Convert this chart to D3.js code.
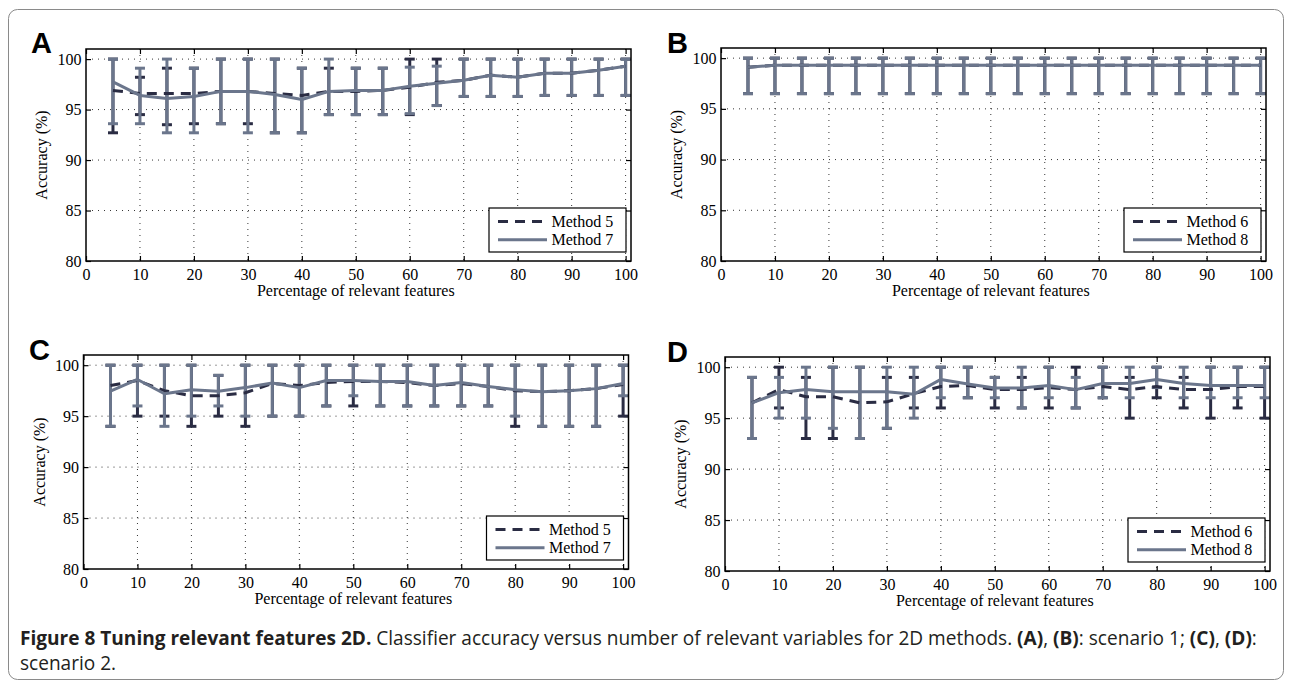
<!DOCTYPE html>
<html>
<head>
<meta charset="utf-8">
<script src="https://cdn.jsdelivr.net/npm/d3@7"></script>
<style>
  html, body { margin: 0; padding: 0; background: #fff; }
  svg { display: block; }
</style>
</head>
<body>
<svg id="fig" width="1292" height="688"></svg>
<script>
// x values shared by all panels (percentage of relevant features)
const xPct = [5, 10, 15, 20, 25, 30, 35, 40, 45, 50, 55, 60, 65, 70, 75, 80, 85, 90, 95, 100];
const xTicks = [0, 10, 20, 30, 40, 50, 60, 70, 80, 90, 100];
const yTicks = [80, 85, 90, 95, 100];

// panel A: method 5 (dashed) and method 7 (solid)
const aM5Mean = [96.9, 96.6, 96.6, 96.6, 96.8, 96.8, 96.6, 96.4, 96.8, 96.8, 96.9, 97.2, 97.7, 97.9, 98.4, 98.2, 98.6, 98.6, 98.9, 99.3];
const aM5Hi = [100, 98.2, 99.1, 99.1, 100, 100, 100, 99.1, 99.1, 99.1, 99.1, 100, 100, 100, 100, 100, 100, 100, 100, 100];
const aM5Lo = [92.7, 94.5, 93.5, 93.6, 93.6, 93.6, 92.7, 92.7, 94.5, 94.5, 94.5, 94.5, 95.4, 96.3, 96.3, 96.3, 96.4, 96.4, 96.4, 96.4];
const aM7Mean = [97.75, 96.4, 96.1, 96.3, 96.8, 96.8, 96.5, 96.0, 96.8, 96.9, 96.9, 97.3, 97.6, 97.9, 98.4, 98.2, 98.6, 98.6, 98.9, 99.3];
const aM7Hi = [100, 99.1, 100, 99.1, 100, 100, 100, 99.1, 100, 99.1, 99.1, 99.2, 99.3, 100, 100, 100, 100, 100, 100, 100];
const aM7Lo = [93.6, 93.6, 92.7, 92.7, 93.6, 92.7, 92.7, 92.7, 94.5, 94.5, 94.5, 94.6, 95.4, 96.3, 96.3, 96.3, 96.4, 96.4, 96.4, 96.4];

// panel B: method 6 (dashed) and method 8 (solid)
const bM6Mean = [99.1, 99.3, 99.3, 99.3, 99.3, 99.3, 99.3, 99.3, 99.3, 99.3, 99.3, 99.3, 99.3, 99.3, 99.3, 99.3, 99.3, 99.3, 99.3, 99.3];
const bM6Hi = [100, 100, 100, 100, 100, 100, 100, 100, 100, 100, 100, 100, 100, 100, 100, 100, 100, 100, 100, 100];
const bM6Lo = [96.5, 96.5, 96.5, 96.5, 96.5, 96.5, 96.5, 96.5, 96.5, 96.5, 96.5, 96.5, 96.5, 96.5, 96.5, 96.5, 96.5, 96.5, 96.5, 96.5];
const bM8Mean = [99.1, 99.3, 99.3, 99.3, 99.3, 99.3, 99.3, 99.3, 99.3, 99.3, 99.3, 99.3, 99.3, 99.3, 99.3, 99.3, 99.3, 99.3, 99.3, 99.3];
const bM8Hi = [100, 100, 100, 100, 100, 100, 100, 100, 100, 100, 100, 100, 100, 100, 100, 100, 100, 100, 100, 100];
const bM8Lo = [96.5, 96.5, 96.5, 96.5, 96.5, 96.5, 96.5, 96.5, 96.5, 96.5, 96.5, 96.5, 96.5, 96.5, 96.5, 96.5, 96.5, 96.5, 96.5, 96.5];

// panel C: method 5 (dashed) and method 7 (solid)
const cM5Mean = [98.0, 98.5, 97.5, 97.0, 97.0, 97.3, 98.2, 98.0, 98.3, 98.4, 98.4, 98.3, 98.0, 98.2, 97.9, 97.5, 97.4, 97.5, 97.7, 98.1];
const cM5Hi = [100, 100, 100, 100, 99.0, 100, 100, 100, 100, 100, 100, 100, 100, 100, 100, 100, 100, 100, 100, 100];
const cM5Lo = [94.0, 95.0, 95.0, 94.0, 95.0, 94.0, 95.0, 95.0, 96.0, 96.0, 96.0, 96.0, 96.0, 96.0, 96.0, 94.0, 94.0, 94.0, 94.0, 95.0];
const cM7Mean = [97.45, 98.6, 97.2, 97.6, 97.45, 97.8, 98.25, 97.8, 98.5, 98.5, 98.4, 98.4, 98.0, 98.3, 97.9, 97.6, 97.4, 97.5, 97.7, 98.2];
const cM7Hi = [100, 100, 100, 100, 99.0, 100, 100, 100, 100, 100, 100, 100, 100, 100, 100, 100, 100, 100, 100, 100];
const cM7Lo = [94.0, 96.0, 94.0, 95.0, 96.0, 95.0, 95.0, 95.0, 96.0, 97.0, 96.0, 96.0, 96.0, 96.0, 96.0, 95.0, 94.0, 94.0, 94.0, 97.0];

// panel D: method 6 (dashed) and method 8 (solid)
const dM6Mean = [96.5, 97.8, 97.1, 97.1, 96.5, 96.6, 97.4, 98.1, 98.2, 97.8, 97.8, 98.0, 97.8, 98.1, 97.8, 98.1, 97.8, 97.8, 98.1, 98.1];
const dM6Hi = [99.0, 100, 99.0, 100, 100, 99.0, 99.0, 100, 100, 99.0, 99.0, 100, 100, 100, 99.0, 100, 99.0, 100, 100, 100];
const dM6Lo = [93.0, 96.0, 93.0, 93.0, 93.0, 94.0, 96.0, 96.0, 97.0, 96.0, 96.0, 96.0, 96.0, 97.0, 95.0, 97.0, 96.0, 95.0, 96.0, 95.0];
const dM8Mean = [96.5, 97.5, 97.8, 97.6, 97.6, 97.6, 97.35, 98.8, 98.35, 97.95, 97.95, 98.2, 97.8, 98.4, 98.4, 98.8, 98.4, 98.2, 98.2, 98.2];
const dM8Hi = [99.0, 99.0, 100, 100, 100, 100, 100, 100, 100, 99.0, 100, 100, 99.0, 100, 100, 100, 100, 100, 100, 100];
const dM8Lo = [93.0, 95.0, 95.0, 94.0, 93.0, 94.0, 95.0, 97.0, 97.0, 97.0, 96.0, 97.0, 96.0, 97.0, 97.0, 98.0, 97.0, 97.0, 97.0, 97.0];

const darkColor = '#2a2c43';
const greyColor = '#6b768c';

const svg = d3.select('#fig');

// outer frame of the figure
svg.append('rect')
  .attr('x', 8.5).attr('y', 9.5)
  .attr('width', 1275).attr('height', 670)
  .attr('rx', 9)
  .attr('fill', 'none')
  .attr('stroke', '#8a8a8a')
  .attr('stroke-width', 1);

function zip(mean, lo, hi) {
  return xPct.map((x, i) => ({ x, mean: mean[i], lo: lo[i], hi: hi[i] }));
}

function drawPanel({ letter, left, top, width, height, series, letterX, letterY }) {
  const g = svg.append('g').attr('transform', `translate(${left},${top})`);
  const xScale = d3.scaleLinear().domain([0, 101]).range([0, width]);
  const yScale = d3.scaleLinear().domain([80, 101]).range([height, 0]);
  const font = '"Liberation Serif", "Times New Roman", serif';

  // dotted grid
  g.append('g')
    .selectAll('line')
    .data(xTicks.filter(t => t > 0 && t < 101))
    .join('line')
      .attr('x1', d => xScale(d)).attr('x2', d => xScale(d))
      .attr('y1', 0).attr('y2', height)
      .attr('stroke', '#000').attr('stroke-width', 0.8)
      .attr('stroke-dasharray', '1,5');
  g.append('g')
    .selectAll('line')
    .data(yTicks.filter(t => t > 80))
    .join('line')
      .attr('x1', 0).attr('x2', width)
      .attr('y1', d => yScale(d)).attr('y2', d => yScale(d))
      .attr('stroke', '#000').attr('stroke-width', 0.8)
      .attr('stroke-dasharray', '1,5');

  // axes with inward ticks on all sides
  const axisStyle = sel => {
    sel.select('.domain').remove();
    sel.selectAll('.tick line').attr('stroke', '#000').attr('stroke-width', 1.2);
    sel.selectAll('text').attr('font-family', font).attr('font-size', 16).attr('fill', '#000');
  };
  g.append('g')
    .attr('transform', `translate(0,${height})`)
    .call(d3.axisBottom(xScale).tickValues(xTicks).tickSizeInner(-5).tickSizeOuter(0).tickPadding(8))
    .call(axisStyle)
    .selectAll('text').attr('dy', '0.71em').attr('y', 8);
  g.append('g')
    .call(d3.axisTop(xScale).tickValues(xTicks).tickSizeInner(-5).tickSizeOuter(0).tickFormat(''))
    .call(axisStyle);
  g.append('g')
    .call(d3.axisLeft(yScale).tickValues(yTicks).tickSizeInner(-5).tickSizeOuter(0).tickPadding(4.5))
    .call(axisStyle);
  g.append('g')
    .attr('transform', `translate(${width},0)`)
    .call(d3.axisRight(yScale).tickValues(yTicks).tickSizeInner(-5).tickSizeOuter(0).tickFormat(''))
    .call(axisStyle);

  // plot data
  const plot = g.append('g');
  const drawLine = d3.line().x(d => xScale(d.x)).y(d => yScale(d.mean));
  const capHalf = 5;

  // error bars of both series first, then the lines
  series.forEach(s => {
    const bars = plot.append('g')
      .attr('stroke', s.color)
      .attr('stroke-width', 3)
      .selectAll('g')
      .data(s.points)
      .join('g');
    bars.append('line')
      .attr('x1', d => xScale(d.x)).attr('x2', d => xScale(d.x))
      .attr('y1', d => yScale(d.lo)).attr('y2', d => yScale(d.hi));
    bars.append('line')
      .attr('x1', d => xScale(d.x) - capHalf).attr('x2', d => xScale(d.x) + capHalf)
      .attr('y1', d => yScale(d.lo)).attr('y2', d => yScale(d.lo));
    bars.append('line')
      .attr('x1', d => xScale(d.x) - capHalf).attr('x2', d => xScale(d.x) + capHalf)
      .attr('y1', d => yScale(d.hi)).attr('y2', d => yScale(d.hi));
  });
  series.forEach(s => {
    plot.append('path')
      .datum(s.points)
      .attr('fill', 'none')
      .attr('stroke', s.color)
      .attr('stroke-width', 3)
      .attr('stroke-dasharray', s.dashed ? '10,7' : null)
      .attr('stroke-linejoin', 'round')
      .attr('d', drawLine);
  });

  // box
  g.append('rect')
    .attr('width', width).attr('height', height)
    .attr('fill', 'none').attr('stroke', '#000').attr('stroke-width', 1.5);

  // axis labels
  g.append('text')
    .attr('x', xScale(50)).attr('y', height + 35)
    .attr('text-anchor', 'middle')
    .attr('font-family', font).attr('font-size', 16)
    .text('Percentage of relevant features');
  g.append('text')
    .attr('transform', `translate(-39,${height / 2}) rotate(-90)`)
    .attr('text-anchor', 'middle')
    .attr('font-family', font).attr('font-size', 16)
    .text('Accuracy (%)');

  // legend
  const lw = 137, lh = 44;
  const legend = g.append('g').attr('transform', `translate(${width - 5 - lw},${height - 9 - lh})`);
  legend.append('rect').attr('width', lw).attr('height', lh)
    .attr('fill', '#fff').attr('stroke', '#000').attr('stroke-width', 1.2);
  series.forEach((s, i) => {
    const yy = 13.5 + i * 18.3;
    legend.append('line')
      .attr('x1', 9).attr('x2', 58).attr('y1', yy).attr('y2', yy)
      .attr('stroke', s.color).attr('stroke-width', 3)
      .attr('stroke-dasharray', s.dashed ? '10,7' : null);
    legend.append('text')
      .attr('x', 62.5).attr('y', yy + 5)
      .attr('font-family', font).attr('font-size', 16)
      .text(s.label);
  });

  // panel letter
  svg.append('text')
    .attr('x', letterX).attr('y', letterY)
    .attr('font-family', '"Liberation Sans", Arial, sans-serif')
    .attr('font-weight', 'bold').attr('font-size', 29)
    .text(letter);
}

drawPanel({
  letter: 'A', left: 86, top: 49, width: 545, height: 212, letterX: 31, letterY: 53,
  series: [
    { label: 'Method 5', color: darkColor, dashed: true, points: zip(aM5Mean, aM5Lo, aM5Hi) },
    { label: 'Method 7', color: greyColor, dashed: false, points: zip(aM7Mean, aM7Lo, aM7Hi) },
  ],
});
drawPanel({
  letter: 'B', left: 721, top: 48, width: 545, height: 213, letterX: 667, letterY: 53,
  series: [
    { label: 'Method 6', color: darkColor, dashed: true, points: zip(bM6Mean, bM6Lo, bM6Hi) },
    { label: 'Method 8', color: greyColor, dashed: false, points: zip(bM8Mean, bM8Lo, bM8Hi) },
  ],
});
drawPanel({
  letter: 'C', left: 83.5, top: 355, width: 545, height: 214, letterX: 29, letterY: 360,
  series: [
    { label: 'Method 5', color: darkColor, dashed: true, points: zip(cM5Mean, cM5Lo, cM5Hi) },
    { label: 'Method 7', color: greyColor, dashed: false, points: zip(cM7Mean, cM7Lo, cM7Hi) },
  ],
});
drawPanel({
  letter: 'D', left: 725, top: 357, width: 545, height: 214, letterX: 667, letterY: 362,
  series: [
    { label: 'Method 6', color: darkColor, dashed: true, points: zip(dM6Mean, dM6Lo, dM6Hi) },
    { label: 'Method 8', color: greyColor, dashed: false, points: zip(dM8Mean, dM8Lo, dM8Hi) },
  ],
});

// caption, sized so that the first line spans the same width as in the figure
const capFont = '"Open Sans", Lato, sans-serif';
const capWidth = 1238;
const cap1 = svg.append('text')
  .attr('x', 20).attr('y', 644.5)
  .attr('font-family', capFont).attr('font-size', 18).attr('fill', '#231f20');
cap1.append('tspan').attr('font-weight', 'bold').text('Figure 8 Tuning relevant features 2D.');
cap1.append('tspan').text(' Classifier accuracy versus number of relevant variables for 2D methods. ');
cap1.append('tspan').attr('font-weight', 'bold').text('(A)');
cap1.append('tspan').text(', ');
cap1.append('tspan').attr('font-weight', 'bold').text('(B)');
cap1.append('tspan').text(': scenario 1; ');
cap1.append('tspan').attr('font-weight', 'bold').text('(C)');
cap1.append('tspan').text(', ');
cap1.append('tspan').attr('font-weight', 'bold').text('(D)');
cap1.append('tspan').text(':');
const capSize = Math.min(20, 18 * capWidth / cap1.node().getComputedTextLength());
cap1.attr('font-size', capSize);
svg.append('text')
  .attr('x', 20).attr('y', 669.5)
  .attr('font-family', capFont).attr('font-size', capSize).attr('fill', '#231f20')
  .text('scenario 2.');
</script>
</body>
</html>
